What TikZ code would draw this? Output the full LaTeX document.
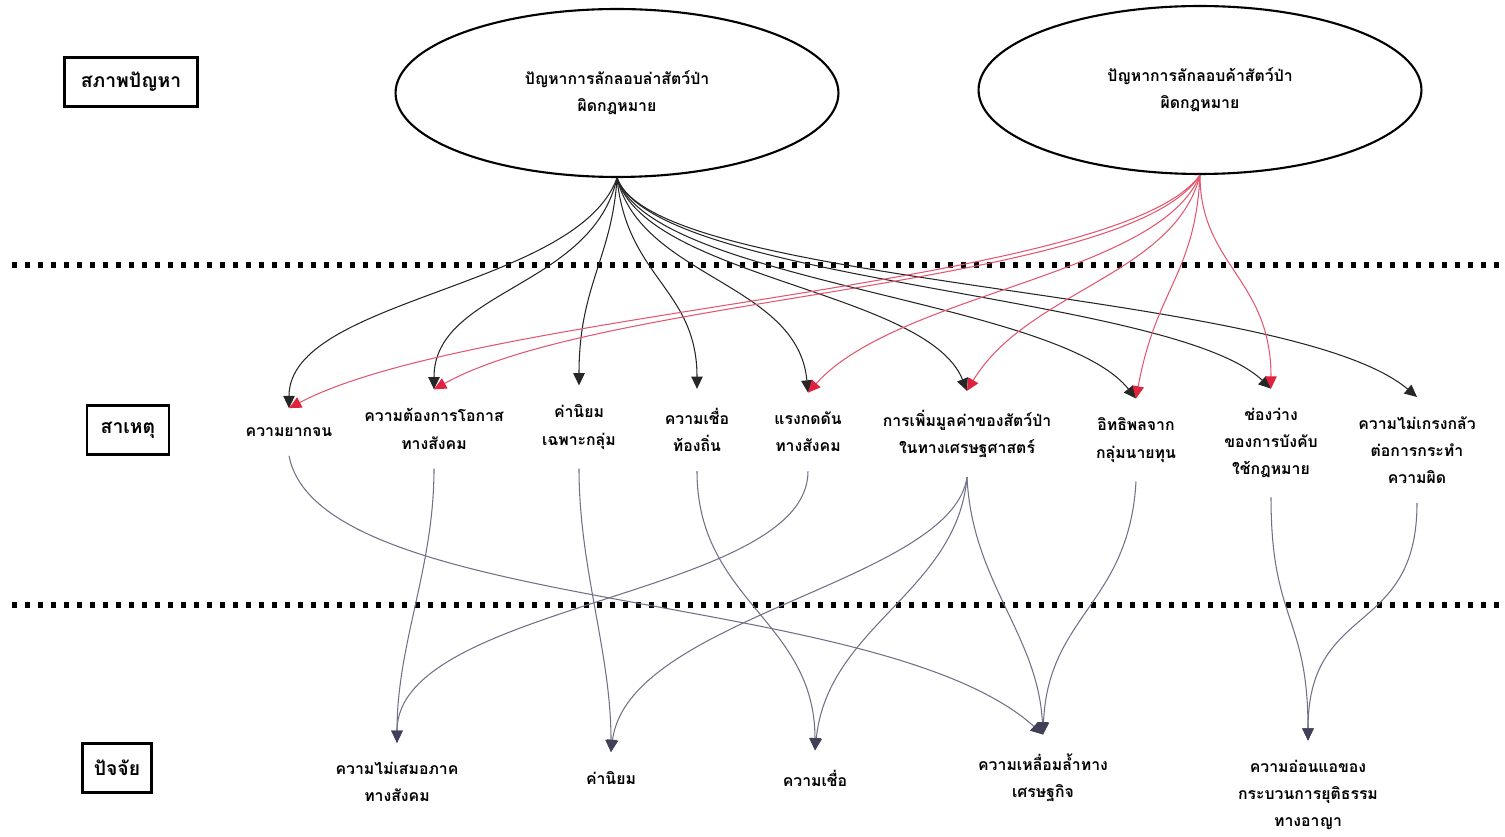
\documentclass[tikz,border=0pt]{standalone}
\usepackage{fontspec}
\newfontfamily\thaifont[Script=Thai]{Loma}
\usetikzlibrary{arrows.meta,shapes.geometric}
\definecolor{redln}{HTML}{E2576E}
\definecolor{redtp}{HTML}{E0223E}
\definecolor{lowln}{HTML}{707088}
\definecolor{lowtp}{HTML}{404058}
\tikzset{
  topic/.style={draw,line width=1.3pt,minimum height=0.98cm,font=\thaifont\bfseries\fontsize{11}{13}\selectfont},
  problem/.style={draw,ellipse,line width=1.2pt,minimum width=8.86cm,minimum height=3.36cm,align=center,font=\thaifont\bfseries\fontsize{9}{15.5}\selectfont},
  cause/.style={align=center,inner xsep=2pt,inner ysep=0.38cm,font=\thaifont\bfseries\fontsize{9}{15.5}\selectfont},
  divider/.style={line width=3pt,dash pattern=on 3pt off 4.4pt},
  blkarrow/.style={draw=black!85,line width=0.6pt,-{Triangle[length=7pt,width=6.5pt]}},
  redarrow/.style={draw=redln,line width=0.6pt,-{Triangle[length=7pt,width=6.5pt,color=redtp]}},
  lowarrow/.style={draw=lowln,line width=0.6pt,-{Triangle[length=7pt,width=6.5pt,color=lowtp]}}
}
\begin{document}
\begin{tikzpicture}[x=0.02cm,y=-0.02cm]
\useasboundingbox (0,0) rectangle (1505,837);
% headings on the left
\node[topic,minimum width=2.66cm] (hprob) at (131,82) {สภาพปัญหา};
\node[topic,minimum width=1.64cm] (hcause) at (128,430) {สาเหตุ};
\node[topic,minimum width=1.38cm] (hfact) at (117,768) {ปัจจัย};
% dotted separators
\draw[divider] (12,265) -- (1505,265);
\draw[divider] (12,605) -- (1505,605);
% problems
\node[problem] (hunt) at (617,93) {ปัญหาการลักลอบล่าสัตว์ป่า\\ผิดกฎหมาย};
\node[problem] (trade) at (1200,90) {ปัญหาการลักลอบค้าสัตว์ป่า\\ผิดกฎหมาย};
% causes
\node[cause] (poor) at (289,432) {ความยากจน};
\node[cause] (chance) at (434,429) {ความต้องการโอกาส\\ทางสังคม};
\node[cause] (groupval) at (579,427) {ค่านิยม\\เฉพาะกลุ่ม};
\node[cause] (localbel) at (697,430) {ความเชื่อ\\ท้องถิ่น};
\node[cause] (pressure) at (808,432) {แรงกดดัน\\ทางสังคม};
\node[cause] (value) at (967,434) {การเพิ่มมูลค่าของสัตว์ป่า\\ในทางเศรษฐศาสตร์};
\node[cause] (capital) at (1136,440) {อิทธิพลจาก\\กลุ่มนายทุน};
\node[cause] (gap) at (1271,443) {ช่องว่าง\\ของการบังคับ\\ใช้กฎหมาย};
\node[cause] (fearless) at (1417,450) {ความไม่เกรงกลัว\\ต่อการกระทำ\\ความผิด};
% factors
\node[cause] (unequal) at (397,782) {ความไม่เสมอภาค\\ทางสังคม};
\node[cause] (values) at (611,778) {ค่านิยม};
\node[cause] (belief) at (815,778) {ความเชื่อ};
\node[cause] (econ) at (1043,778) {ความเหลื่อมล้ำทาง\\เศรษฐกิจ};
\node[cause] (justice) at (1308,795) {ความอ่อนแอของ\\กระบวนการยุติธรรม\\ทางอาญา};
% hunting -> causes
\foreach \t/\ax/\ay/\bx/\by in {poor/-40/110/0/-110, chance/-25/110/0/-100,
    groupval/-5/80/0/-100, localbel/10/100/0/-100, pressure/25/100/-10/-110,
    value/30/100/-40/-100, capital/35/105/-80/-100, gap/40/105/-100/-95,
    fearless/40/110/-130/-110}
  \draw[blkarrow] (hunt.south) .. controls +(\ax,\ay) and +(\bx,\by) .. (\t.north);
% trade -> causes
\foreach \t/\ax/\ay/\bx/\by in {poor/-80/112/190/-100, chance/-70/112/170/-95,
    pressure/-40/100/90/-100, value/-25/100/60/-100, capital/-5/100/20/-110,
    gap/0/90/0/-110}
  \draw[redarrow] (trade.south) .. controls +(\ax,\ay) and +(\bx,\by) .. (\t.north);
% causes -> factors
\foreach \s/\t/\ax/\ay/\bx/\by in {poor/econ/31/160/-163/-147, chance/unequal/0/100/0/-100,
    pressure/unequal/0/125/0/-140, groupval/values/0/100/0/-100,
    localbel/belief/0/130/0/-130, value/values/-15/105/17/-135,
    value/belief/-10/115/13/-125, value/econ/5/105/-5/-100,
    capital/econ/-7/123/5/-120, gap/justice/0/125/0/-125,
    fearless/justice/0/135/0/-140}
  \draw[lowarrow] (\s.south) .. controls +(\ax,\ay) and +(\bx,\by) .. (\t.north);
\end{tikzpicture}
\end{document}
